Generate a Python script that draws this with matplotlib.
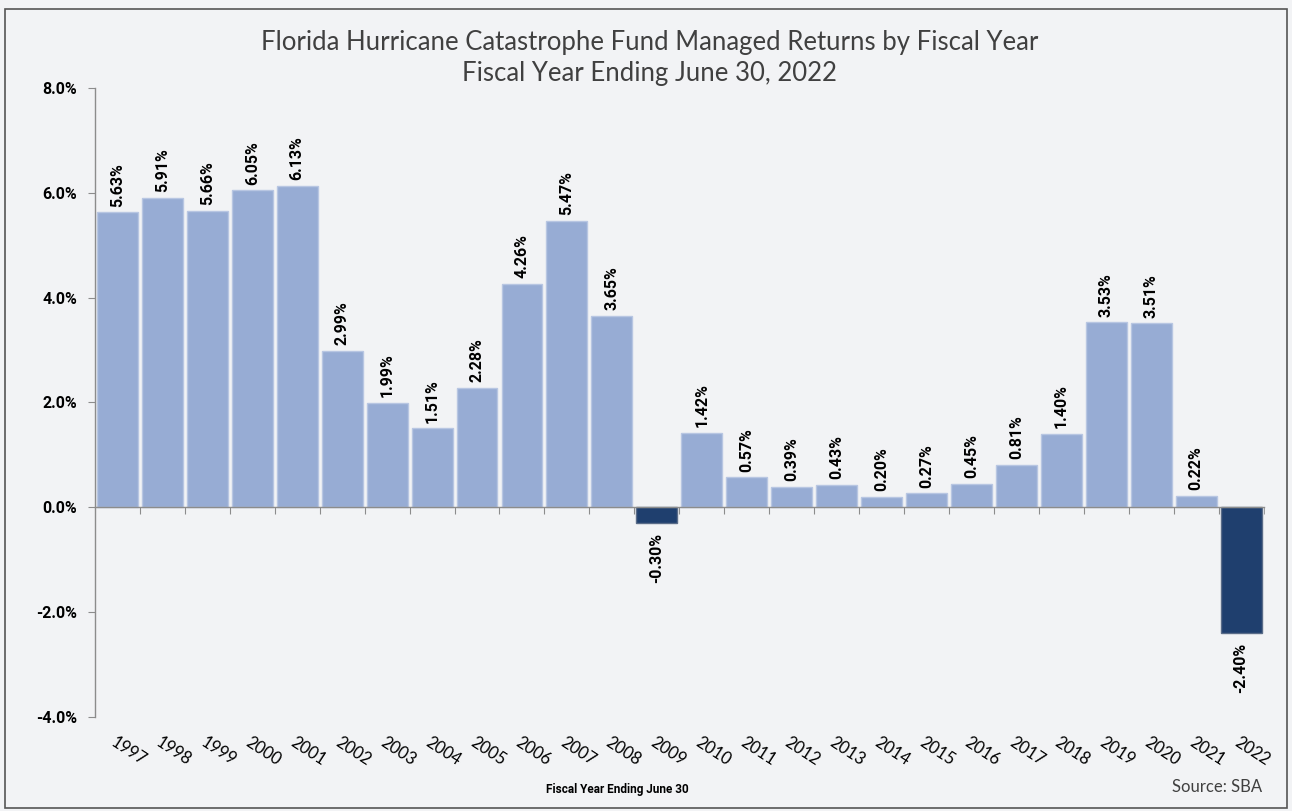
import matplotlib as mpl
import matplotlib.pyplot as plt
import numpy as np
from matplotlib.patches import Rectangle
from matplotlib.transforms import blended_transform_factory

mpl.rcParams.update({
    "font.family": ["Lato", "DejaVu Sans"],
    "axes.linewidth": 1.0,
})
BOLD_FONT = ["Roboto", "DejaVu Sans"]

# ── data ─────────────────────────────────────────────────────────
years = ["1997", "1998", "1999", "2000", "2001", "2002", "2003", "2004", "2005",
         "2006", "2007", "2008", "2009", "2010", "2011", "2012", "2013", "2014",
         "2015", "2016", "2017", "2018", "2019", "2020", "2021", "2022"]
returns = [5.63, 5.91, 5.66, 6.05, 6.13, 2.99, 1.99, 1.51, 2.28, 4.26, 5.47, 3.65,
           -0.30, 1.42, 0.57, 0.39, 0.43, 0.20, 0.27, 0.45, 0.81, 1.40, 3.53, 3.51,
           0.22, -2.40]
y_ticks = [-4, -2, 0, 2, 4, 6, 8]

LIGHT = "#97ACD4"
DARK = "#1F3F6E"
BG = "#F2F3F5"
AXIS = "#8C8C8C"

fig = plt.figure(figsize=(12.92, 8.11), dpi=100, facecolor=BG)
ax = fig.add_axes([0.0735, 0.1159, 0.9045, 0.7756])
ax.set_facecolor(BG)

x = np.arange(len(years))
vals = np.array(returns)
colors = [DARK if v < 0 else LIGHT for v in vals]
edges = ["#5A6C88" if v < 0 else "#B8C6E2" for v in vals]
ax.bar(x, vals, width=0.91, color=colors, edgecolor=edges, linewidth=1.0, zorder=2)

# value labels
for xi, v in zip(x, vals):
    if v >= 0:
        ax.annotate(f"{v:.2f}%", (xi, v), xytext=(0, 4), textcoords="offset points",
                    rotation=90, ha="center", va="bottom", fontsize=11.5,
                    fontweight="bold", family=BOLD_FONT, color="black")
    else:
        ax.annotate(f"{v:.2f}%", (xi, v), xytext=(0, -7), textcoords="offset points",
                    rotation=90, ha="center", va="top", fontsize=11.5,
                    fontweight="bold", family=BOLD_FONT, color="black")

# axes
ax.set_xlim(-0.5, len(years) - 0.5)
ax.set_ylim(-4, 8)
ax.set_yticks(y_ticks)
ax.set_yticklabels([f"{t:.1f}%" for t in y_ticks], fontsize=11.5, fontweight="bold",
                   family=BOLD_FONT)
ax.tick_params(axis="y", direction="out", length=5, color=AXIS, pad=8)

ax.spines["top"].set_visible(False)
ax.spines["right"].set_visible(False)
ax.spines["left"].set_color(AXIS)
ax.spines["bottom"].set_position(("data", 0))
ax.spines["bottom"].set_color(AXIS)
ax.spines["bottom"].set_zorder(3)
ax.set_xticks(x[1:] - 0.5)
ax.set_xticks([len(years) - 0.5], minor=True)
ax.tick_params(axis="x", which="both", direction="out", length=5, color=AXIS,
               labelbottom=False)

# year labels below the plot
trans = blended_transform_factory(ax.transData, ax.transAxes)
for xi, yr in zip(x, years):
    ax.text(xi - 0.02, -0.027, yr, transform=trans, rotation=-33,
            rotation_mode="anchor", ha="left", va="top", fontsize=12, color="black")

# titles and notes
fig.text(0.503, 0.948, "Florida Hurricane Catastrophe Fund Managed Returns by Fiscal Year",
         ha="center", va="center", fontsize=18.5, color="#404040")
fig.text(0.503, 0.909, "Fiscal Year Ending June 30, 2022",
         ha="center", va="center", fontsize=18.5, color="#404040")
fig.text(0.478, 0.027, "Fiscal Year Ending June 30", ha="center", va="center",
         fontsize=8.5, fontweight="bold", family=BOLD_FONT, color="black")
fig.text(0.977, 0.029, "Source: SBA", ha="right", va="center", fontsize=12,
         color="#404040")

fig.patches.append(Rectangle((0.004, 0.004), 0.992, 0.985, transform=fig.transFigure,
                             fill=False, edgecolor="#555555", linewidth=1.2))

fig.savefig("out.png", dpi=100, facecolor=BG)
